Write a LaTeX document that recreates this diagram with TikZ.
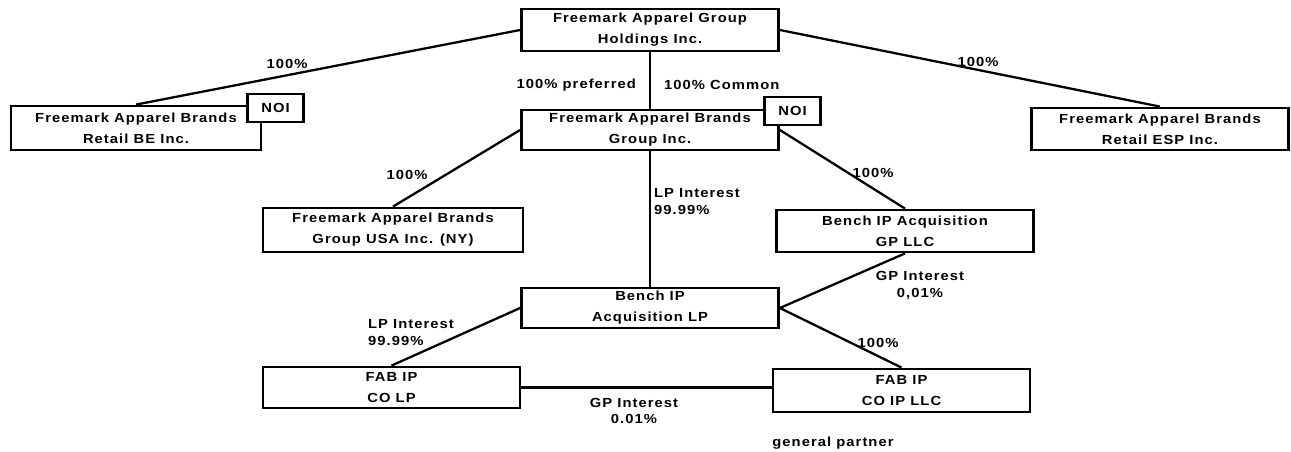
\documentclass[tikz,border=0pt]{standalone}
\usepackage{fontspec}
\setmainfont{Liberation Sans}[FakeStretch=1.12,LetterSpace=8]
\usepackage{tikz}
\tikzset{
	entity/.style={draw,line width=1.6pt,fill=white,minimum width=5.14cm,minimum height=0.84cm,inner sep=1pt,align=center,font=\fontsize{7.5}{12}\selectfont\bfseries},
	noi/.style={draw,line width=1.3pt,fill=white,minimum width=1.12cm,minimum height=0.57cm,inner sep=1pt,font=\fontsize{7.5}{12}\selectfont\bfseries},
	share/.style={inner sep=1pt,font=\fontsize{7.5}{9.6}\selectfont\bfseries},
	link/.style={line width=1.3pt}
}

\begin{document}
\begin{tikzpicture}
		
		\useasboundingbox (0,0) rectangle (25.82,-9.04);
		
		\node[entity] (hold) at (13.00,-0.60) {Freemark Apparel Group\\Holdings Inc.};
		\node[entity,minimum width=5.0cm,minimum height=0.88cm] (rbe) at (2.72,-2.56) {Freemark Apparel Brands\\Retail BE Inc.};
		\node[noi] (rbenoi) at (5.51,-2.16) {NOI};
		\node[entity,minimum height=0.80cm] (grp) at (13.00,-2.60) {Freemark Apparel Brands\\Group Inc.};
		\node[noi] (grpnoi) at (15.85,-2.22) {NOI};
		\node[entity] (esp) at (23.20,-2.58) {Freemark Apparel Brands\\Retail ESP Inc.};
		
		\node[entity,minimum width=5.2cm,minimum height=0.88cm] (usa) at (7.86,-4.60) {Freemark Apparel Brands\\Group USA Inc. (NY)};
		\node[entity] (gpllc) at (18.10,-4.62) {Bench IP Acquisition\\GP LLC};
		\node[entity,minimum height=0.80cm] (blp) at (13.00,-6.16) {Bench IP\\Acquisition LP};
		\node[entity,minimum height=0.82cm] (colp) at (7.83,-7.75) {FAB IP\\CO LP};
		\node[entity,minimum height=0.86cm] (coipllc) at (18.03,-7.81) {FAB IP\\CO IP LLC};
		
		\draw[link] (hold.west) -- (rbe.north);
		\draw[link] (hold.east) -- (esp.north);
		\draw[link] (hold.south) -- (grp.north);
		\draw[link] (grp.west) -- (usa.north);
		\draw[link] (grp.east) -- (gpllc.north);
		\draw[link] (grp.south) -- (blp.north);
		\draw[link] (gpllc.south) -- (blp.east);
		\draw[link] (blp.west) -- (colp.north);
		\draw[link] (blp.east) -- (coipllc.north);
		\draw[link] (colp.east) -- (colp.east -| coipllc.west);
		
		\node[share] (L1) at (5.74,-1.28) {100\%};
		\node[share] (L2) at (19.56,-1.24) {100\%};
		\node[share,anchor=east] (L3) at (12.76,-1.70) {100\% preferred};
		\node[share,anchor=west] (L4) at (13.24,-1.70) {100\% Common};
		\node[share] (L5) at (8.14,-3.50) {100\%};
		\node[share,anchor=north west,align=left] (L6) at (13.04,-3.72) {LP Interest\\99.99\%};
		\node[share] (L7) at (17.46,-3.46) {100\%};
		\node[share,align=center] (L8) at (18.40,-5.70) {GP Interest\\0,01\%};
		\node[share,anchor=north west,align=left] (L9) at (7.32,-6.34) {LP Interest\\99.99\%};
		\node[share] (L10) at (17.56,-6.86) {100\%};
		\node[share,align=center] (L11) at (12.68,-8.22) {GP Interest\\0.01\%};
		\node[share] (L12) at (16.66,-8.86) {general partner};
		
\end{tikzpicture}
\end{document}
